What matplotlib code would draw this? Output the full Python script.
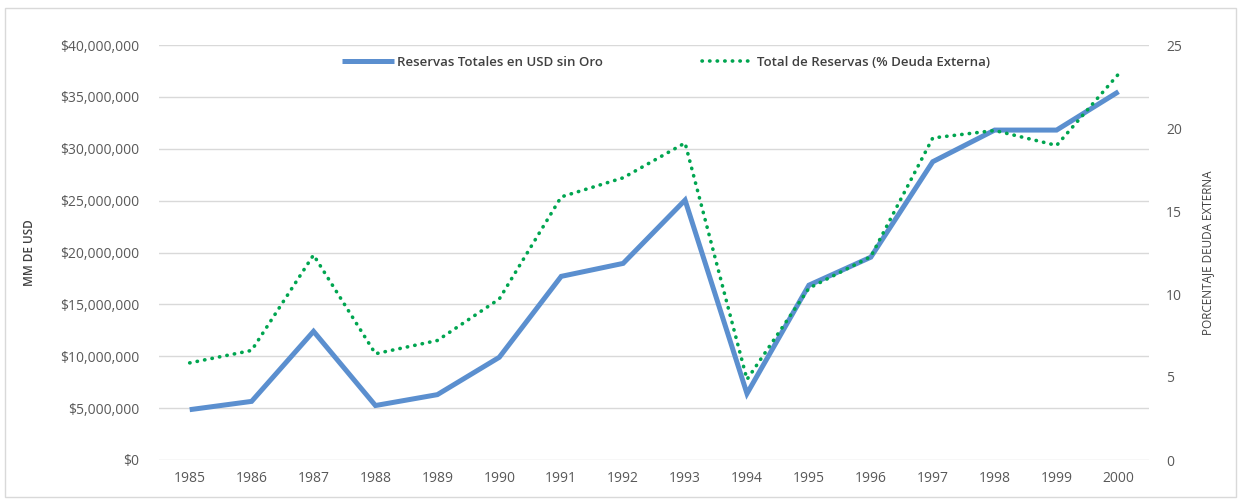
import matplotlib
matplotlib.use("Agg")
import matplotlib.pyplot as plt
from matplotlib.patches import Rectangle
from matplotlib.ticker import FuncFormatter

# data
years = [1985, 1986, 1987, 1988, 1989, 1990, 1991, 1992,
         1993, 1994, 1995, 1996, 1997, 1998, 1999, 2000]
reservas_usd = [4.85e6, 5.65e6, 12.4e6, 5.25e6, 6.3e6, 9.9e6, 17.7e6, 18.95e6,
                25.05e6, 6.4e6, 16.85e6, 19.55e6, 28.75e6, 31.8e6, 31.8e6, 35.5e6]
reservas_pct = [5.85, 6.6, 12.35, 6.4, 7.2, 9.7, 15.85, 17.0,
                19.1, 4.85, 10.35, 12.25, 19.4, 19.85, 18.95, 23.25]

label_blue = "Reservas Totales en USD sin Oro"
label_green = "Total de Reservas (% Deuda Externa)"

plt.rcParams['font.family'] = ['Open Sans', 'DejaVu Sans']
txt_col = '#595959'

fig = plt.figure(figsize=(12.4, 5), dpi=100)
ax = fig.add_axes([0.128, 0.08, 0.799, 0.83])
ax2 = ax.twinx()

ax.plot(years, reservas_usd, color='#5B8FCF', lw=3.6, solid_capstyle='butt',
        solid_joinstyle='miter', label=label_blue, zorder=3)
ax2.plot(years, reservas_pct, color='#00A550', lw=2.6, linestyle=(0, (0.1, 2.0)),
         dash_capstyle='round', label=label_green, zorder=3)

ax.set_xlim(1984.5, 2000.5)
ax.set_ylim(0, 40e6)
ax2.set_ylim(0, 25)
ax.set_xticks(years)
ax.set_yticks(range(0, 40000001, 5000000))
ax2.set_yticks(range(0, 26, 5))
ax.yaxis.set_major_formatter(FuncFormatter(lambda v, p: "${:,.0f}".format(v)))

ax.grid(axis='y', color='#D9D9D9', lw=1)
ax.set_axisbelow(True)
for a in (ax, ax2):
    for s in a.spines.values():
        s.set_visible(False)
    a.tick_params(length=0, colors=txt_col, labelsize=10)
ax.tick_params(axis='x', pad=8)
ax.tick_params(axis='y', pad=14)
ax2.tick_params(axis='y', pad=12)

ax.set_ylabel("MM DE USD", fontsize=8.5, color='#404040', fontweight='semibold')
ax.yaxis.set_label_coords(-0.124, 0.5)
ax2.set_ylabel("PORCENTAJE DEUDA EXTERNA", fontsize=8.5, color='#404040')
ax2.yaxis.set_label_coords(1.052, 0.5)

h1, l1 = ax.get_legend_handles_labels()
h2, l2 = ax2.get_legend_handles_labels()
leg = ax2.legend(h1 + h2, l1 + l2, loc='center', bbox_to_anchor=(0.512, 0.958),
                 ncol=2, frameon=False, fontsize=9.5, handlelength=4.0,
                 handletextpad=0.2, columnspacing=7.5)
for t in leg.get_texts():
    t.set_color('#404040')
    t.set_fontweight('semibold')

fig.patches.append(Rectangle((0.004, 0.006), 0.993, 0.978, transform=fig.transFigure,
                             fill=False, edgecolor='#D9D9D9', lw=1))

fig.savefig("out.png", dpi=100)
